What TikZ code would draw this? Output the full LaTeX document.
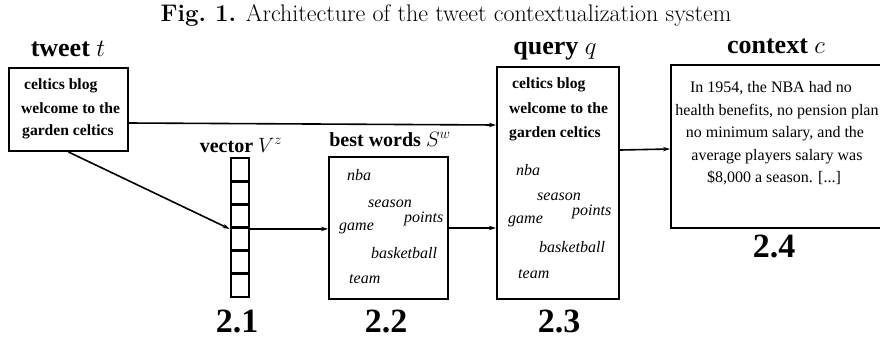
\documentclass[tikz,border=0pt]{standalone}
\usepackage{fontspec}
\newfontfamily\tms{Liberation Serif}
\usetikzlibrary{arrows.meta}
\begin{document}
\begin{tikzpicture}[x=1pt,y=-1pt,
  box/.style={draw, line width=2pt, inner sep=0pt},
  cell/.style={draw, line width=2.8pt, inner sep=0pt, minimum width=18pt, minimum height=23.17pt},
  bt/.style={font=\tms\bfseries\fontsize{15.6}{18}\selectfont, anchor=base west, inner sep=0pt},
  it/.style={font=\tms\itshape\fontsize{16}{18}\selectfont, anchor=base west, inner sep=0pt},
  rt/.style={font=\tms\fontsize{16}{18}\selectfont, anchor=base, inner sep=0pt},
  biglab/.style={font=\tms\bfseries\fontsize{26}{28}\selectfont, anchor=base, inner sep=0pt},
  smlab/.style={font=\tms\bfseries\fontsize{20}{22}\selectfont, anchor=base, inner sep=0pt},
  num/.style={font=\tms\bfseries\fontsize{34}{36}\selectfont, anchor=base, inner sep=0pt},
  arr/.style={-{Stealth[length=7pt,width=4.5pt]}, line width=1.6pt}
]
\useasboundingbox (0,0) rectangle (880,338);
% title
\node[anchor=base, inner sep=0pt, font=\fontsize{24}{26}\selectfont] (title) at (446,21) {\textbf{Fig.~1.} Architecture of the tweet contextualization system};
% tweet
\node[box, minimum width=119pt, minimum height=83pt] (tweet) at (68.5,109.5) {};
\node[biglab] (tweetlab) at (68,56) {tweet $t$};
\node[bt] (tw1) at (24,89) {celtics blog};
\node[bt] (tw2) at (21,113) {welcome to the};
\node[bt] (tw3) at (22,135) {garden celtics};
% vector
\node[cell] (v1) at (240,169.6) {};
\node[cell] (v2) at (240,192.7) {};
\node[cell] (v3) at (240,215.9) {};
\node[cell] (v4) at (240,239.1) {};
\node[cell] (v5) at (240,262.2) {};
\node[cell] (v6) at (240,285.4) {};
\node[smlab] (veclab) at (241,152) {vector $V^z$};
\node[num] (n1) at (237,332) {2.1};
% best words
\node[box, minimum width=119pt, minimum height=142pt] (words) at (388.5,228) {};
\node[smlab] (wordslab) at (390,146) {best words $S^w$};
\node[it] (w1) at (347,180) {nba};
\node[it] (w2) at (368,207) {season};
\node[it] (w3) at (404,222) {points};
\node[it] (w4) at (339,230) {game};
\node[it] (w5) at (371,258) {basketball};
\node[it] (w6) at (349,283) {team};
\node[num] (n2) at (386,332) {2.2};
% query
\node[box, minimum width=122pt, minimum height=232pt] (query) at (558,183) {};
\node[biglab] (querylab) at (555,54) {query $q$};
\node[bt] (q1) at (512,88) {celtics blog};
\node[bt] (q2) at (509,113) {welcome to the};
\node[bt] (q3) at (509,137) {garden celtics};
\node[it] (q4) at (516,175) {nba};
\node[it] (q5) at (537,200) {season};
\node[it] (q6) at (572,215) {points};
\node[it] (q7) at (508,223) {game};
\node[it] (q8) at (539,252) {basketball};
\node[it] (q9) at (518,278) {team};
\node[num] (n3) at (559,332) {2.3};
% context
\node[box, minimum width=211pt, minimum height=163pt] (context) at (776.5,146.5) {};
\node[biglab] (contextlab) at (776,53) {context $c$};
\node[rt] (c1) at (771,92) {In 1954, the NBA had no};
\node[rt] (c2) at (777,115) {health benefits, no pension plan};
\node[rt] (c3) at (775,137) {no minimum salary, and the};
\node[rt] (c4) at (777,160) {average players salary was};
\node[rt] (c5) at (774,182) {\$8,000 a season. [...]};
\node[num] (n4) at (774,257) {2.4};
% connectors
\draw[arr] ([yshift=-13.5pt]tweet.east) -- ([yshift=58pt]query.west);
\draw[arr] (tweet.south) -- (v3.south west);
\draw[arr] (v3.south east) -- (v3.south east -| words.west);
\draw[arr] (words.east) -- (words.east -| query.west);
\draw[arr] ([yshift=33pt]query.east) -- ([yshift=-2.5pt]context.west);
\end{tikzpicture}
\end{document}
